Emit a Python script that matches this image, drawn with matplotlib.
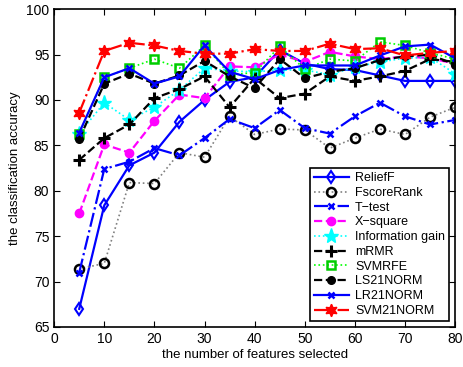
import matplotlib
matplotlib.use('Agg')
import matplotlib.pyplot as plt
import numpy as np

plt.rcParams['font.family'] = ['Liberation Sans', 'DejaVu Sans']

n_features = [5, 10, 15, 20, 25, 30, 35, 40, 45, 50, 55, 60, 65, 70, 75, 80]

relieff = [67.0, 78.4, 82.8, 84.2, 87.6, 90.0, 92.0, 92.5, 95.5, 94.0, 93.4, 93.3, 92.7, 92.1, 92.1, 92.1]
fscore = [71.4, 72.0, 80.9, 80.8, 84.2, 83.7, 88.2, 86.2, 86.8, 86.7, 84.7, 85.8, 86.8, 86.2, 88.1, 89.2]
ttest = [71.0, 82.4, 83.2, 84.7, 83.9, 85.8, 87.9, 86.9, 88.9, 86.9, 86.3, 88.2, 89.7, 88.2, 87.3, 87.8]
xsquare = [77.5, 85.1, 84.2, 87.7, 90.6, 90.2, 93.7, 93.6, 95.0, 94.2, 95.3, 94.8, 94.5, 94.8, 94.6, 94.0]
infogain = [86.3, 89.7, 87.8, 89.2, 91.1, 93.5, 93.2, 93.1, 93.3, 93.3, 92.8, 93.6, 94.2, 94.6, 94.7, 92.9]
mrmr = [83.4, 85.8, 87.3, 90.2, 91.2, 92.6, 89.2, 92.4, 90.2, 90.7, 92.6, 92.1, 92.6, 93.2, 94.5, 94.2]
svmrfe = [86.3, 92.5, 93.5, 94.5, 93.5, 96.0, 92.8, 93.0, 95.9, 93.4, 94.5, 94.3, 96.4, 96.0, 95.2, 94.5]
ls21 = [85.7, 91.8, 92.9, 91.8, 92.7, 94.3, 92.6, 91.3, 94.5, 92.4, 93.1, 93.5, 94.4, 94.8, 95.0, 93.9]
lr21 = [86.4, 92.5, 93.5, 91.8, 92.6, 96.0, 93.1, 92.3, 93.3, 93.8, 93.8, 93.8, 94.9, 95.9, 96.1, 94.6]
svm21 = [88.6, 95.4, 96.3, 96.0, 95.4, 95.1, 95.1, 95.6, 95.4, 95.4, 96.2, 95.6, 95.7, 94.9, 95.2, 95.4]

fig, ax = plt.subplots(figsize=(4.63, 3.67), dpi=100)
fig.subplots_adjust(left=0.117, right=0.983, top=0.975, bottom=0.109)

ax.plot(n_features, relieff, color='blue', linestyle='-', linewidth=1.6, marker='d',
        markersize=6, markerfacecolor='none', markeredgewidth=1.5, label='ReliefF')
ax.plot(n_features, fscore, color='gray', linestyle=':', linewidth=1.2, marker='o',
        markersize=6.5, markerfacecolor='none', markeredgecolor='black', markeredgewidth=1.8, label='FscoreRank')
ax.plot(n_features, ttest, color='blue', linestyle='-.', linewidth=1.6, marker='x',
        markersize=5, markeredgewidth=1.8, label='T\u2212test')
ax.plot(n_features, xsquare, color='magenta', linestyle='--', linewidth=1.6, marker='o',
        markersize=6, label='X\u2212square')
ax.plot(n_features, infogain, color='cyan', linestyle=':', linewidth=1.2, marker='*',
        markersize=11, label='Information gain')
ax.plot(n_features, mrmr, color='black', linestyle='--', linewidth=1.6, marker='+',
        markersize=8, markeredgewidth=2.2, label='mRMR')
ax.plot(n_features, svmrfe, color='lime', linestyle=':', linewidth=1.2, marker='s',
        markersize=6, markerfacecolor='none', markeredgewidth=1.8, markeredgecolor='#00cc00', label='SVMRFE')
ax.plot(n_features, ls21, color='black', linestyle='--', linewidth=1.6, marker='o',
        markersize=5.5, label='LS21NORM')
ax.plot(n_features, lr21, color='blue', linestyle='-', linewidth=1.6, marker='x',
        markersize=4.5, markeredgewidth=1.8, label='LR21NORM')
ax.plot(n_features, svm21, color='red', linestyle='-.', linewidth=1.6, marker=(6, 1, 0),
        markersize=9, label='SVM21NORM')

ax.set_xlim(0, 80)
ax.set_ylim(65, 100)
ax.set_xticks(np.arange(0, 81, 10))
ax.set_yticks(np.arange(65, 101, 5))
ax.tick_params(direction='in', top=True, right=True, labelsize=10, length=4)
for spine in ax.spines.values():
    spine.set_linewidth(1.2)

ax.set_xlabel('the number of features selected', fontsize=9.5, labelpad=2)
ax.set_ylabel('the classification accuracy', fontsize=9.5, labelpad=4)

leg = ax.legend(loc='lower right', fontsize=9, fancybox=False, framealpha=1,
                edgecolor='black', borderpad=0.3, labelspacing=0.22, handlelength=2.8,
                handletextpad=0.5, borderaxespad=0.5)
leg.get_frame().set_linewidth(1.2)

fig.savefig('out.png', dpi=100)
